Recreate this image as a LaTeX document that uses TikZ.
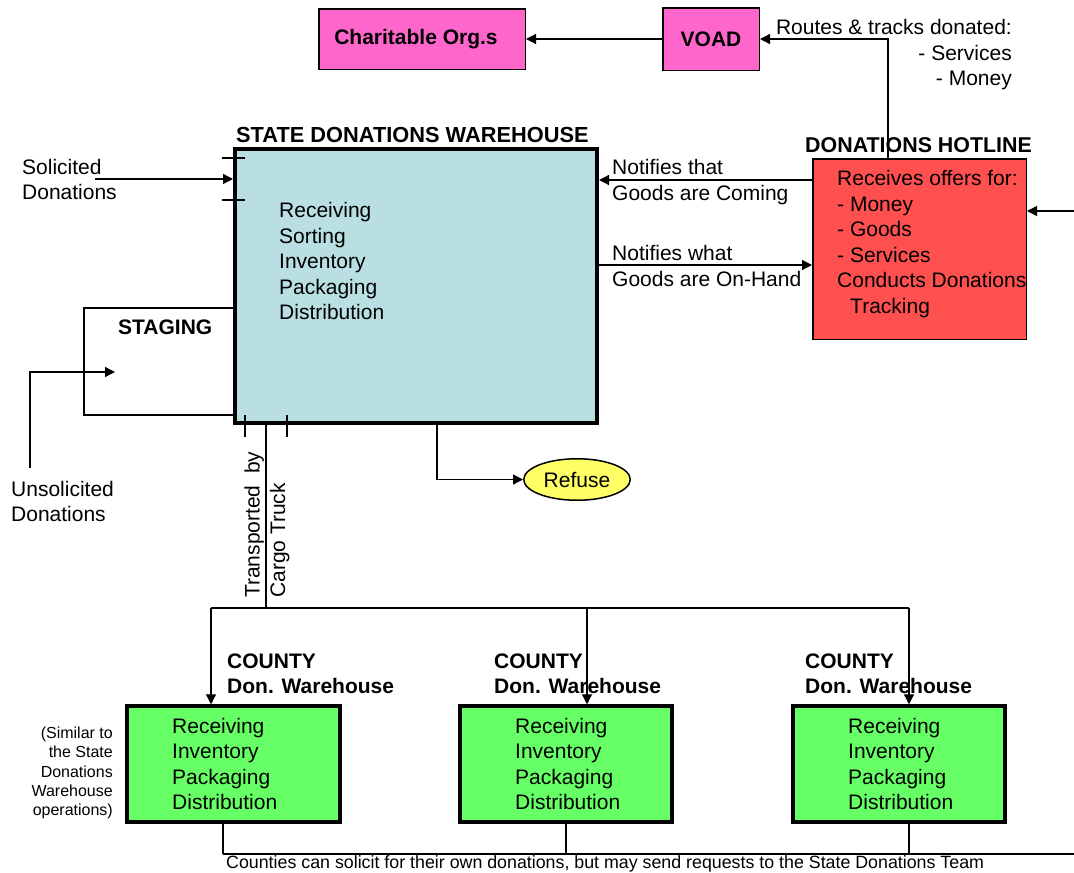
\documentclass[tikz,border=0pt]{standalone}
\usepackage{fontspec}
\setmainfont{Liberation Sans}
\usetikzlibrary{arrows.meta,shapes.geometric}
\definecolor{pinkc}{HTML}{FF66CC}
\definecolor{redc}{HTML}{FF5050}
\definecolor{tealc}{HTML}{B9DFE3}
\definecolor{greenc}{HTML}{66FF66}
\definecolor{yellowc}{HTML}{FFFF66}
\begin{document}
\begin{tikzpicture}[x=1pt,y=-1pt,
  txt/.style={font=\fontsize{21}{25.5}\selectfont, inner sep=0pt, align=left},
  btxt/.style={font=\fontsize{21}{25.5}\selectfont\bfseries, inner sep=0pt, align=left},
  smalltxt/.style={font=\fontsize{16}{19.25}\selectfont, inner sep=0pt},
  thinbox/.style={draw=black, line width=1.5pt},
  thickbox/.style={draw=black, line width=4pt},
  conn/.style={draw=black, line width=1.3pt},
  arr/.style={conn, -{Triangle[length=10pt,width=10pt]}},
  tickmark/.style={draw=black, line width=1.3pt}]
\useasboundingbox (0,0) rectangle (1074,873);

% ---- boxes ----
\node[thinbox, fill=pinkc, minimum width=206.5pt, minimum height=60.5pt, btxt] (char) at (422,39) {Charitable Org.s\hspace*{12pt}};
\node[thinbox, fill=pinkc, minimum width=96.5pt, minimum height=62.5pt, btxt] (voad) at (711,39) {VOAD};
\node[thinbox, fill=redc, minimum width=213.5pt, minimum height=180.5pt] (hot) at (919.5,249) {};
\node[thickbox, fill=tealc, minimum width=362pt, minimum height=274pt] (wh) at (416,286) {};
\node[thickbox, fill=greenc, minimum width=212.5pt, minimum height=115.5pt] (b1) at (233.5,764) {};
\node[thickbox, fill=greenc, minimum width=212.5pt, minimum height=115.5pt] (b2) at (566,764) {};
\node[thickbox, fill=greenc, minimum width=212.5pt, minimum height=115.5pt] (b3) at (899,764) {};
\node[draw=black, line width=1.5pt, fill=yellowc, ellipse, minimum width=106.5pt, minimum height=41.5pt, txt, align=center] (ref) at (577,479.5) {Refuse};

% ---- coordinates ----
\coordinate (vx) at (888,39);
\coordinate (y180) at (700,180);
\coordinate (y265) at (700,265);
\coordinate (hin) at (1074,211);
\coordinate (sol) at (95,179);
\coordinate (stTL) at (84,308);
\coordinate (stBL) at (84,415);
\coordinate (uns) at (30,468);
\coordinate (unsT) at (115,372);
\coordinate (rx) at (437,479);
\coordinate (tx) at (266,608);
\coordinate (busL) at (211,608);
\coordinate (busM) at (587,608);
\coordinate (busR) at (909,608);
\coordinate (k1) at (223,854);
\coordinate (k2) at (566,854);
\coordinate (k3) at (909,854);
\coordinate (kR) at (1074,854);

% ---- connectors ----
\draw[arr] (voad) -- (char);
\draw[arr] (hot.north -| vx) |- (voad);
\draw[arr] (hot.west |- y180) -- (wh.east |- y180);
\draw[arr] (wh.east |- y265) -- (hot.west |- y265);
\draw[arr] (hin) -- (hot.east |- hin);
\draw[arr] (sol) -- (wh.west |- sol);
\draw[conn] (wh.west |- stTL) -- (stTL) -- (stBL) -- (wh.west |- stBL);
\draw[arr] (uns) |- (unsT);
\draw[arr] (wh.south -| rx) |- (ref);
\draw[conn] (wh.south -| tx) -- (tx);
\draw[conn] (busL) -- (busR);
\draw[arr] (busL) -- (b1.north -| busL);
\draw[arr] (busM) -- (b2.north -| busM);
\draw[arr] (busR) -- (b3.north -| busR);
\draw[conn] (b1.south -| k1) -- (k1);
\draw[conn] (b2.south -| k2) -- (k2);
\draw[conn] (b3.south -| k3) -- (k3);
\draw[conn] (k1) -- (kR);

% tick marks
\draw[tickmark] (222,158) -- (245,158);
\draw[tickmark] (222,200) -- (245,200);
\draw[tickmark] (245,415) -- (245,437);
\draw[tickmark] (287,415) -- (287,437);

% ---- texts ----
\node[btxt, font=\fontsize{21.8}{25.5}\selectfont\bfseries, anchor=west] (whtitle) at (236,134.5) {STATE DONATIONS WAREHOUSE};
\node[txt, anchor=west] (whtext) at (279,261) {Receiving\\Sorting\\Inventory\\Packaging\\Distribution};
\node[btxt, font=\fontsize{21.4}{25.5}\selectfont\bfseries, anchor=west] (hottitle) at (805,145.5) {DONATIONS HOTLINE};
\node[txt, anchor=west] (hottext) at (837,244) {Receives offers for:\\- Money\\- Goods\\- Services\\Conducts Donations\\\hspace*{13pt}Tracking};
\node[txt, anchor=east, align=right] (routes) at (1012,55) {Routes \& tracks donated:\\- Services\\- Money};
\node[txt, anchor=west] (n1) at (612,182) {Notifies that\\Goods are Coming};
\node[txt, anchor=west] (n2) at (612,266) {Notifies what\\Goods are On-Hand};
\node[txt, anchor=west] (soltext) at (22,179.5) {Solicited\\Donations};
\node[txt, anchor=west] (unstext) at (11,501.5) {Unsolicited\\Donations};
\node[btxt, anchor=west] (staging) at (118,327.5) {STAGING};
\node[txt, rotate=90, anchor=west] (truck) at (267,598) {Transported\ \ by\\Cargo Truck};
\node[btxt, anchor=west] (c1) at (227,674) {COUNTY\\Don. Warehouse};
\node[btxt, anchor=west] (c2) at (494,674) {COUNTY\\Don. Warehouse};
\node[btxt, anchor=west] (c3) at (805,674) {COUNTY\\Don. Warehouse};
\node[txt, anchor=west] (t1) at (172,764) {Receiving\\Inventory\\Packaging\\Distribution};
\node[txt, anchor=west] (t2) at (515,764) {Receiving\\Inventory\\Packaging\\Distribution};
\node[txt, anchor=west] (t3) at (848,764) {Receiving\\Inventory\\Packaging\\Distribution};
\node[smalltxt, anchor=east, align=right] (sim) at (113,773) {(Similar to\\the State\\Donations\\Warehouse\\operations)};
\node[smalltxt, font=\fontsize{17.8}{20}\selectfont, anchor=base west] (counties) at (226,868.5) {Counties can solicit for their own donations, but may send requests to the State Donations Team};
\end{tikzpicture}
\end{document}
